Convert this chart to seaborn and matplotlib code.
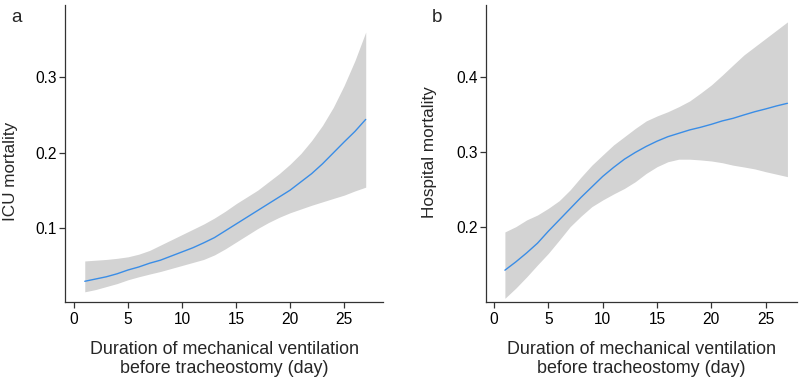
import numpy as np
import pandas as pd
import matplotlib
matplotlib.use("Agg")
import matplotlib.pyplot as plt
import seaborn as sns

# days of mechanical ventilation before tracheostomy
days = list(range(1, 28))

# ICU mortality (fit + 95% band)
icu_fit = [0.029, 0.032, 0.035, 0.039, 0.044, 0.048, 0.053, 0.057, 0.0625, 0.068, 0.0735, 0.080, 0.087,
           0.096, 0.105, 0.114, 0.123, 0.132, 0.141, 0.150, 0.161, 0.172, 0.185, 0.1995, 0.214, 0.228, 0.244]
icu_upper = [0.056, 0.057, 0.058, 0.0595, 0.0615, 0.065, 0.070, 0.077, 0.084, 0.091, 0.098, 0.105, 0.113,
             0.122, 0.132, 0.141, 0.150, 0.161, 0.172, 0.1845, 0.1987, 0.216, 0.236, 0.260, 0.289, 0.322, 0.360]
icu_lower = [0.015, 0.018, 0.022, 0.026, 0.031, 0.035, 0.0386, 0.042, 0.046, 0.050, 0.054, 0.058, 0.064,
             0.072, 0.081, 0.090, 0.099, 0.107, 0.114, 0.120, 0.125, 0.130, 0.1345, 0.139, 0.1434, 0.149, 0.154]

# hospital mortality (fit + 95% band)
hosp_fit = [0.142, 0.153, 0.165, 0.178, 0.194, 0.209, 0.224, 0.239, 0.253, 0.267, 0.279, 0.290, 0.299,
            0.307, 0.314, 0.320, 0.3245, 0.329, 0.3325, 0.3365, 0.341, 0.3445, 0.349, 0.3533, 0.357, 0.361, 0.3645]
hosp_upper = [0.193, 0.200, 0.209, 0.2156, 0.2245, 0.2347, 0.249, 0.266, 0.282, 0.2956, 0.309, 0.320, 0.331,
              0.341, 0.3476, 0.3533, 0.360, 0.3676, 0.378, 0.389, 0.402, 0.4156, 0.429, 0.440, 0.451, 0.462, 0.473]
hosp_lower = [0.1045, 0.118, 0.133, 0.149, 0.1645, 0.182, 0.200, 0.214, 0.2267, 0.2356, 0.2436, 0.251, 0.260,
              0.271, 0.280, 0.2866, 0.290, 0.290, 0.289, 0.2876, 0.2853, 0.282, 0.2796, 0.277, 0.2733, 0.270, 0.2667]

x_ticks = [0, 5, 10, 15, 20, 25]
icu_yticks = [0.1, 0.2, 0.3]
hosp_yticks = [0.2, 0.3, 0.4]

sns.set_style("ticks")
plt.rcParams['font.family'] = ['Liberation Sans', 'DejaVu Sans']

line_col = '#3a8de6'
band_col = '#d3d3d3'
xlab = "Duration of mechanical ventilation\nbefore tracheostomy (day)"

fig = plt.figure(figsize=(8, 3.8), dpi=100)
ax1 = fig.add_axes([0.08125, 0.2053, 0.3975, 0.7816])
ax2 = fig.add_axes([0.6075, 0.2053, 0.389, 0.7816])

panels = [
    (ax1, icu_fit, icu_lower, icu_upper, "ICU mortality", icu_yticks,
     (-0.83, 28.6), (0.0015, 0.396), (-0.171, 0.441)),
    (ax2, hosp_fit, hosp_lower, hosp_upper, "Hospital mortality", hosp_yticks,
     (-0.74, 27.9), (0.0996, 0.4956), (-0.182, 0.505)),
]

for ax, fit, lo, hi, ylab, yt, xl, yl, lc in panels:
    df = pd.DataFrame({'day': days, 'fit': fit, 'lo': lo, 'hi': hi})
    ax.fill_between(df['day'], df['lo'], df['hi'], color=band_col, linewidth=0)
    sns.lineplot(data=df, x='day', y='fit', ax=ax, color=line_col, linewidth=1.0)
    ax.set_xlim(*xl)
    ax.set_ylim(*yl)
    ax.set_xticks(x_ticks)
    ax.set_yticks(yt)
    ax.tick_params(direction='out', length=4, width=0.9, colors='#333333',
                   labelcolor='black', labelsize=11.2)
    ax.tick_params(axis='y', pad=2)
    ax.tick_params(axis='x', pad=3)
    for s in ['top', 'right']:
        ax.spines[s].set_visible(False)
    for s in ['left', 'bottom']:
        ax.spines[s].set_color('#333333')
        ax.spines[s].set_linewidth(0.9)
    ax.set_xlabel(xlab, fontsize=12.9, labelpad=10, linespacing=1.16)
    ax.set_ylabel(ylab, fontsize=12.3, va='center')
    ax.yaxis.set_label_coords(*lc)

fig.text(0.021, 0.955, "a", fontsize=13.5, ha='center', va='center')
fig.text(0.546, 0.955, "b", fontsize=13.5, ha='center', va='center')

fig.savefig("out.png", dpi=100)
